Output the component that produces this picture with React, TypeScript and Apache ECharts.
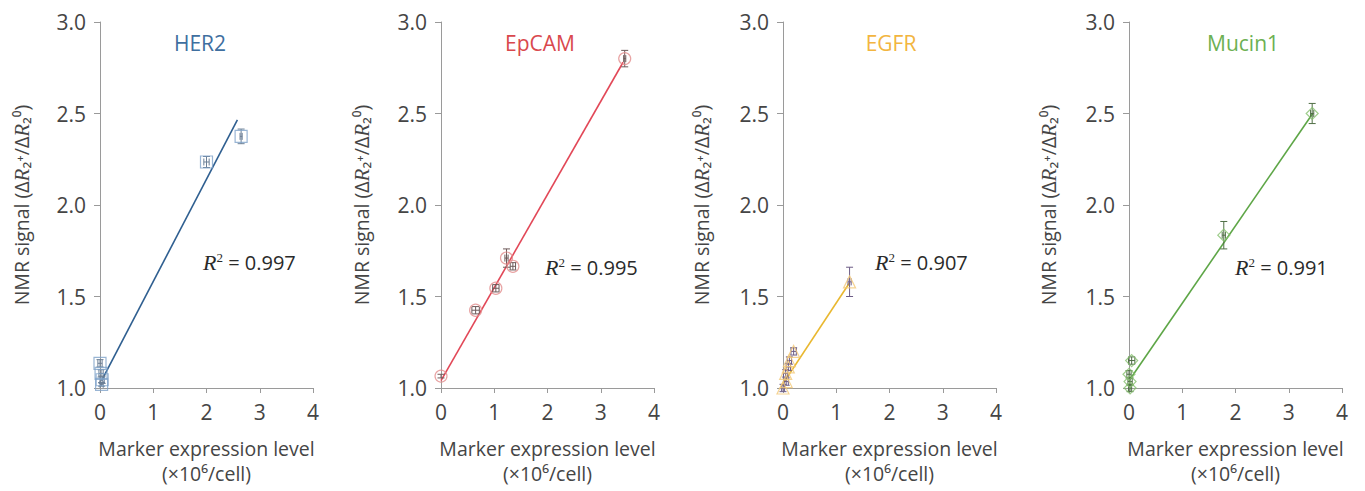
import React, { useEffect, useRef } from "react";
import * as echarts from "echarts";

// ---- data ----
const panelNames = ["HER2", "EpCAM", "EGFR", "Mucin1"];
const r2Labels = ["0.997", "0.995", "0.907", "0.991"];
const xTicks = [0, 1, 2, 3, 4];
const yTicks = [1.0, 1.5, 2.0, 2.5, 3.0];

// [x, y, xErr, yErr]
const her2Points = [
  [0.0, 1.135, 0.04, 0.02],
  [0.02, 1.08, 0.04, 0.02],
  [0.04, 1.045, 0.04, 0.02],
  [0.03, 1.02, 0.03, 0.01],
  [2.0, 2.235, 0.05, 0.03],
  [2.65, 2.375, 0.02, 0.04],
];
const epcamPoints = [
  [0.0, 1.065, 0.0, 0.01],
  [0.65, 1.425, 0.07, 0.02],
  [1.03, 1.545, 0.06, 0.02],
  [1.23, 1.71, 0.03, 0.05],
  [1.35, 1.665, 0.05, 0.02],
  [3.45, 2.8, 0.02, 0.045],
];
const egfrPoints = [
  [0.0, 1.0, 0.03, 0.02],
  [0.06, 1.035, 0.04, 0.02],
  [0.05, 1.08, 0.04, 0.02],
  [0.1, 1.115, 0.04, 0.02],
  [0.12, 1.15, 0.04, 0.02],
  [0.2, 1.2, 0.05, 0.02],
  [1.25, 1.58, 0.03, 0.08],
];
const mucinPoints = [
  [0.05, 1.15, 0.06, 0.02],
  [0.0, 1.075, 0.04, 0.02],
  [0.02, 1.035, 0.04, 0.02],
  [0.02, 1.0, 0.03, 0.02],
  [1.78, 1.835, 0.03, 0.075],
  [3.44, 2.5, 0.03, 0.055],
];
// fitted lines (endpoints)
const her2Fit = [[0.03, 1.04], [2.58, 2.465]];
const epcamFit = [[0.0, 1.04], [3.42, 2.78]];
const egfrFit = [[-0.02, 1.015], [1.25, 1.575]];
const mucinFit = [[0.0, 1.04], [3.45, 2.5]];

const allPoints = [her2Points, epcamPoints, egfrPoints, mucinPoints];
const allFits = [her2Fit, epcamFit, egfrFit, mucinFit];

// ---- styling ----
const titleColors = ["#3f6f9f", "#d9484d", "#f2b540", "#6cb052"];
const lineColors = ["#2f5f90", "#e24858", "#e9b830", "#5ea647"];
const markerColors = ["#7fa3c9", "#e28c8c", "#f3c878", "#86c06e"];
const errColors = ["#6b7f96", "#6e5a5a", "#6d5c86", "#4f6e45"];
const symbols = ["rect", "circle", "triangle", "diamond"];
const symbolSizes = [12, 12, 12, 12];
const gridLefts = [100, 441, 783, 1129];
const gridWidth = 213;
const gridTop = 22;
const gridHeight = 366;
const nameCenters = [25, 365, 705, 1052];
const titleX = [200, 540, 891, 1243];
const r2X = [203, 545, 875, 1235];
const r2Y = [262, 267, 262, 267];

const FONT = "'Open Sans', 'DejaVu Sans', sans-serif";
const TEXT = "#454545";
const AXIS = "#9a9a9a";

export default function App() {
  const ref = useRef<HTMLDivElement>(null);
  useEffect(() => {
    document.body.style.margin = "0";
    const chart = echarts.init(ref.current!, null, { renderer: "svg" });
    const grid: any[] = [];
    const xAxis: any[] = [];
    const yAxis: any[] = [];
    const series: any[] = [];
    const graphic: any[] = [];

    for (let i = 0; i < 4; i++) {
      grid.push({ left: gridLefts[i], top: gridTop, width: gridWidth, height: gridHeight });
      xAxis.push({
        type: "value",
        gridIndex: i,
        min: xTicks[0],
        max: xTicks[xTicks.length - 1],
        interval: 1,
        axisLine: { lineStyle: { color: AXIS, width: 1 } },
        axisTick: { show: true, inside: false, length: 5, lineStyle: { color: AXIS } },
        splitLine: { show: false },
        axisLabel: { color: TEXT, fontFamily: FONT, fontSize: 21, margin: 13 },
        name: "Marker expression level\n(×10⁶/cell)",
        nameLocation: "middle",
        nameGap: 48,
        nameTextStyle: { color: TEXT, fontFamily: FONT, fontSize: 19.5, lineHeight: 25 },
      });
      yAxis.push({
        type: "value",
        gridIndex: i,
        min: yTicks[0],
        max: yTicks[yTicks.length - 1],
        interval: 0.5,
        axisLine: { show: true, lineStyle: { color: AXIS, width: 1 } },
        axisTick: { show: true, inside: false, length: 6, lineStyle: { color: AXIS } },
        splitLine: { show: false },
        axisLabel: {
          color: TEXT,
          fontFamily: FONT,
          fontSize: 21,
          margin: 14,
          formatter: (v: number) => v.toFixed(1),
        },
        name: "NMR signal (Δ{it|R}₂⁺/Δ{it|R}₂⁰)",
        nameLocation: "middle",
        nameGap: gridLefts[i] - nameCenters[i] - 7,
        nameTextStyle: {
          color: TEXT,
          fontFamily: FONT,
          fontSize: 19.5,
          rich: {
            it: { fontStyle: "italic", fontFamily: "'Liberation Serif', serif", fontSize: 21, color: TEXT },
          },
        },
      });

      series.push({
        type: "line",
        xAxisIndex: i,
        yAxisIndex: i,
        data: allFits[i],
        symbol: "none",
        lineStyle: { color: lineColors[i], width: 1.6 },
        z: 3,
      });
      series.push({
        type: "custom",
        xAxisIndex: i,
        yAxisIndex: i,
        data: allPoints[i],
        encode: { x: 0, y: 1 },
        clip: false,
        z: 4,
        renderItem: (params: any, api: any) => {
          const x = api.value(0);
          const y = api.value(1);
          const ex = api.value(2);
          const ey = api.value(3);
          const children: any[] = [];
          const st = { stroke: errColors[i], lineWidth: 1 };
          const cap = 3.5;
          if (ey > 0) {
            const t = api.coord([x, y + ey]);
            const b = api.coord([x, y - ey]);
            children.push({ type: "line", shape: { x1: t[0], y1: t[1], x2: b[0], y2: b[1] }, style: st });
            children.push({ type: "line", shape: { x1: t[0] - cap, y1: t[1], x2: t[0] + cap, y2: t[1] }, style: st });
            children.push({ type: "line", shape: { x1: b[0] - cap, y1: b[1], x2: b[0] + cap, y2: b[1] }, style: st });
          }
          if (ex > 0) {
            const l = api.coord([x - ex, y]);
            const r = api.coord([x + ex, y]);
            children.push({ type: "line", shape: { x1: l[0], y1: l[1], x2: r[0], y2: r[1] }, style: st });
            children.push({ type: "line", shape: { x1: l[0], y1: l[1] - cap, x2: l[0], y2: l[1] + cap }, style: st });
            children.push({ type: "line", shape: { x1: r[0], y1: r[1] - cap, x2: r[0], y2: r[1] + cap }, style: st });
          }
          return { type: "group", children };
        },
      });
      series.push({
        type: "scatter",
        xAxisIndex: i,
        yAxisIndex: i,
        data: allPoints[i].map((p) => [p[0], p[1]]),
        symbol: symbols[i],
        symbolSize: symbolSizes[i],
        clip: false,
        itemStyle: { color: "rgba(255,255,255,0)", borderColor: markerColors[i], borderWidth: 1.2 },
        z: 5,
      });

      graphic.push({
        type: "text",
        x: titleX[i],
        y: 43,
        style: {
          text: panelNames[i],
          fill: titleColors[i],
          font: `21px ${FONT}`,
          textAlign: "center",
          textVerticalAlign: "middle",
        },
      });
      graphic.push({
        type: "text",
        x: r2X[i],
        y: r2Y[i],
        style: {
          text: `{it|R}{sup|2}{n| = ${r2Labels[i]}}`,
          textVerticalAlign: "middle",
          rich: {
            it: { fontStyle: "italic", fontFamily: "'Liberation Serif', serif", fontSize: 22, fill: "#2a2a2a" },
            sup: { fontFamily: "'Liberation Serif', serif", fontSize: 13, fill: "#2a2a2a", verticalAlign: "top", padding: [0, 0, 9, 0] },
            n: { fontFamily: FONT, fontSize: 20, fill: "#2a2a2a" },
          },
        },
      });
    }

    chart.setOption({
      animation: false,
      backgroundColor: "#ffffff",
      grid,
      xAxis,
      yAxis,
      series,
      graphic,
    });
    return () => chart.dispose();
  }, []);
  return <div ref={ref} style={{ width: 1365, height: 491 }} />;
}
